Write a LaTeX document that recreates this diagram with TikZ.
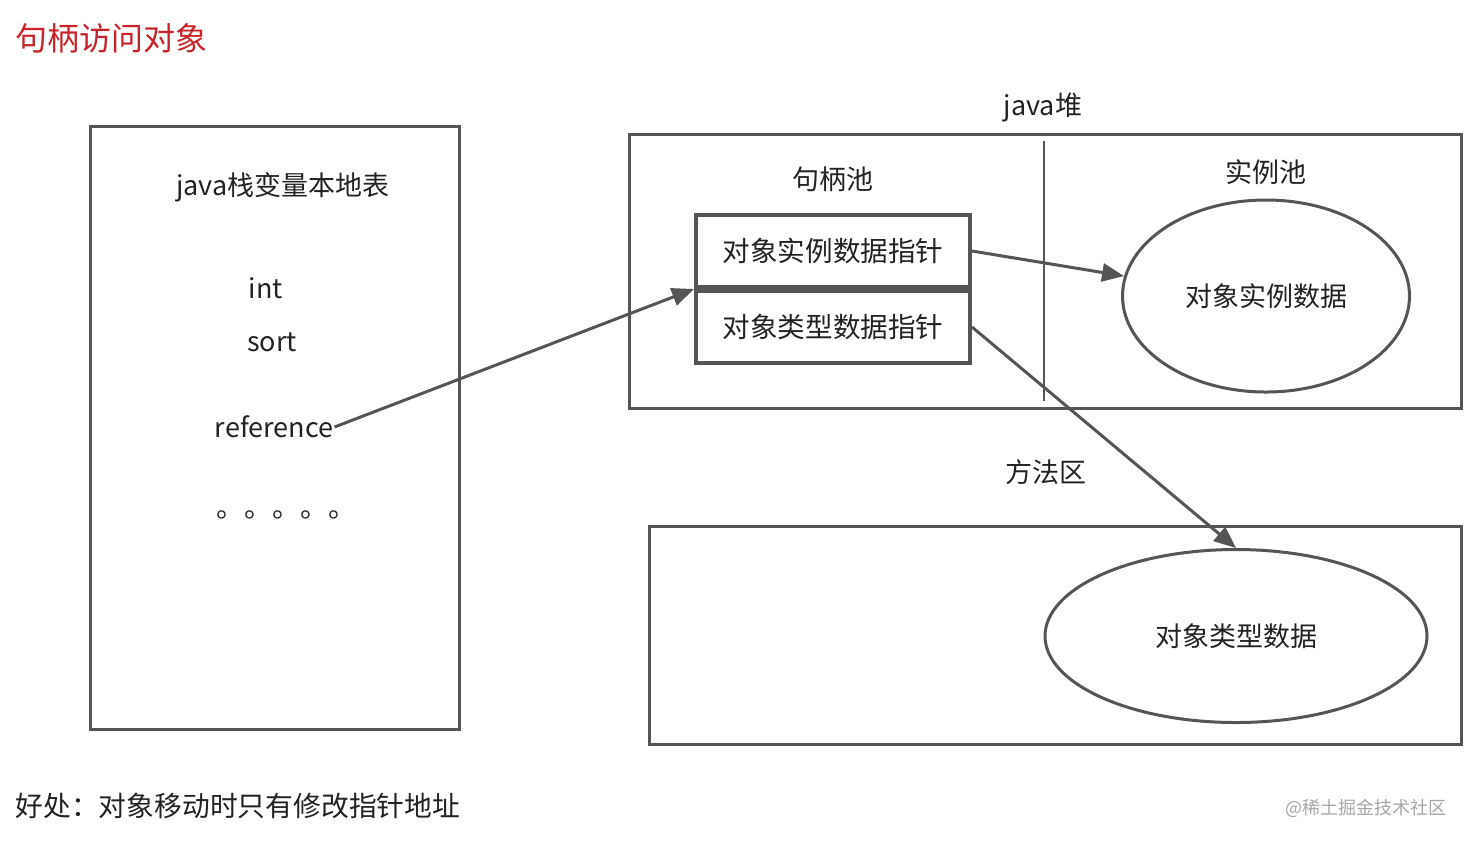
\documentclass[tikz,border=0pt]{standalone}
\usepackage{fontspec}
\setmainfont{Noto Sans CJK SC}
\usepackage{xcolor}
\usetikzlibrary{arrows.meta, positioning, shapes.geometric}
\definecolor{linegray}{HTML}{555555}
\definecolor{textdark}{HTML}{222222}
\definecolor{titlered}{HTML}{C8232B}
\begin{document}
\begin{tikzpicture}[x=0.5pt, y=-0.5pt,
  every node/.style={text=textdark, font=\fontsize{13.5}{15}\selectfont},
  frame/.style={draw=linegray, line width=1.5pt},
  ptrbox/.style={draw=linegray, line width=2pt, fill=white, minimum width=137pt, minimum height=36pt, inner sep=0pt, font=\fontsize{13.8}{15}\selectfont},
  pool/.style={ellipse, draw=linegray, line width=1.5pt, inner sep=0pt},
  link/.style={draw=linegray, line width=1.5pt, -{Triangle[length=11pt,width=9pt]}}]
  \useasboundingbox (0,0) rectangle (1470,843);

  % Title
  \node[anchor=west, inner sep=0pt, text=titlered, font=\fontsize{16}{18}\selectfont] (title) at (15,38) {句柄访问对象};

  % Stack
  \draw[frame] (90,126) rectangle (459,729);
  \node (stack) at (283,187) {java栈变量本地表};
  \node (int) at (266,288) {int};
  \node (sort) at (272,342) {sort};
  \node[inner xsep=0.5pt] (ref) at (274,427) {reference};
  \node[font=\fontsize{14}{14}\selectfont] (dots) at (286,515) {。。。。。};

  % Heap
  \node (heap) at (1043,107) {java堆};
  \draw[frame] (629,134) rectangle (1461,408);
  \draw[linegray, line width=0.75pt] (1044,141) -- (1044,401);
  \node (hpool) at (833,179) {句柄池};
  \node (ipool) at (1266,172) {实例池};
  \node[ptrbox] (instptr) at (833,251) {对象实例数据指针};
  \node[ptrbox, below=0pt of instptr] (typeptr) {对象类型数据指针};
  \node[pool, minimum width=143.5pt, minimum height=96pt] (inst) at (1266,296) {对象实例数据};

  % Method area
  \node (method) at (1046,472) {方法区};
  \draw[frame] (649,526) rectangle (1461,744);
  \node[pool, minimum width=191pt, minimum height=86.5pt] (type) at (1236,636) {对象类型数据};

  % Links
  \draw[link] (ref.east) -- (instptr.south west);
  \draw[link] (instptr.east) -- (inst.172);
  \draw[link] (typeptr.east) -- (type.north);

  % Notes
  \node[anchor=west, inner sep=0pt, font=\fontsize{13.9}{15}\selectfont] (note) at (15,806) {好处：对象移动时只有修改指针地址};
  \node[anchor=east, inner sep=0pt, text=black!35, font=\fontsize{9}{10}\selectfont] (mark) at (1447,808) {@稀土掘金技术社区};
\end{tikzpicture}
\end{document}
